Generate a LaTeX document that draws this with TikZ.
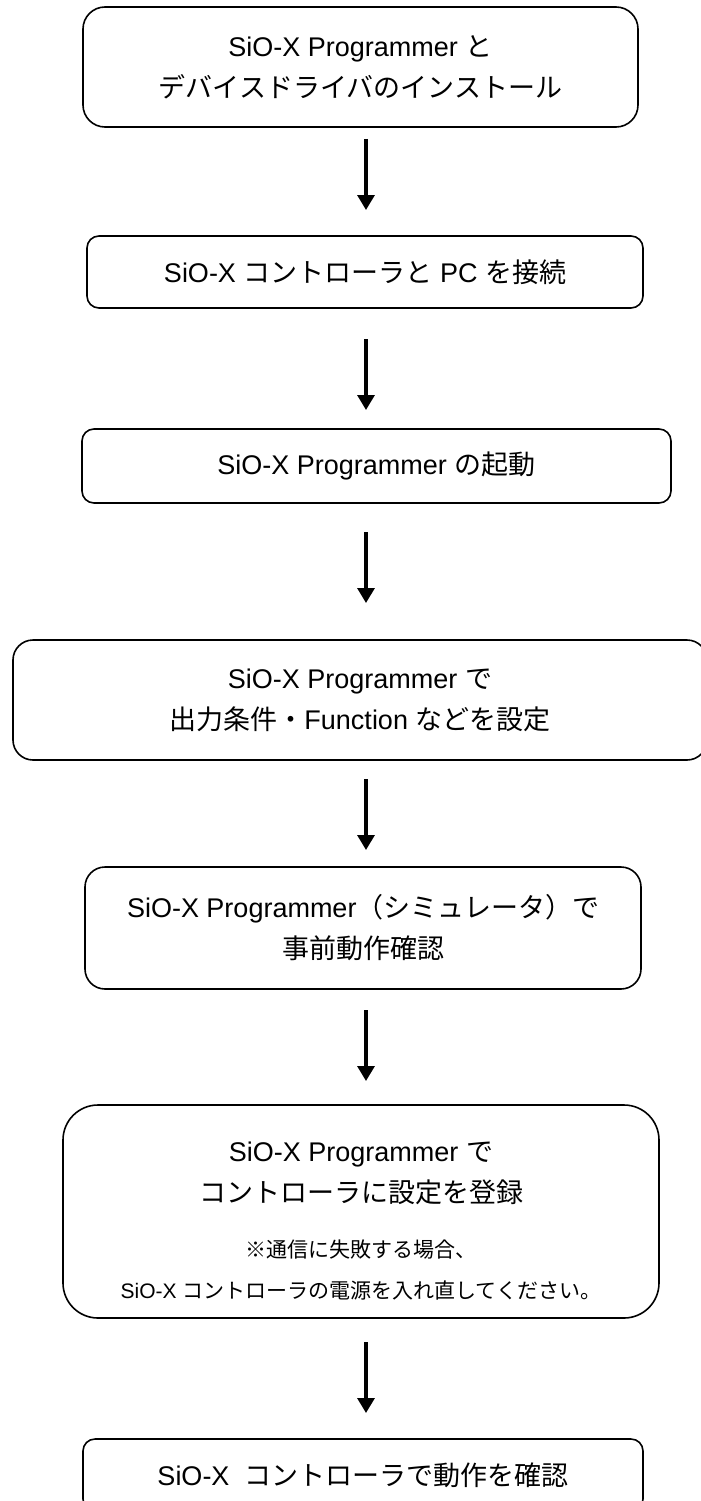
\documentclass[tikz,border=0pt]{standalone}
\usepackage{fontspec}
\setmainfont{Liberation Sans}
\newfontfamily\jp{Noto Sans CJK JP}
\newcommand\J[1]{{\jp #1}}
\usetikzlibrary{arrows.meta}
\begin{document}
\begin{tikzpicture}[x=1pt,y=-1pt,
  stepbox/.style={draw, line width=1.6pt, rounded corners=#1, inner sep=0pt, align=center,
    font=\fontsize{27}{41}\selectfont},
  stepbox/.default=12pt,
  txt/.style={inner sep=0pt, align=center, font=\fontsize{27}{41}\selectfont},
  flow/.style={-{Triangle[length=15pt,width=17pt]}, line width=3.2pt}]
\useasboundingbox (0,0) rectangle (701,1501);
\clip (0,0) rectangle (701,1501);
\fill[white] (0,0) rectangle (701,1501);

\node[stepbox=22pt, minimum width=555pt, minimum height=120pt] (b1) at (360.5,67)
  {SiO-X Programmer \J{と}\\\J{デバイスドライバのインストール}};
\node[stepbox=12pt, minimum width=556pt, minimum height=72pt] (b2) at (365,272)
  {SiO-X \J{コントローラと} PC \J{を接続}};
\node[stepbox=12pt, minimum width=589pt, minimum height=74pt] (b3) at (376.5,466)
  {SiO-X Programmer \J{の起動}};
\node[stepbox=20pt, minimum width=694pt, minimum height=120pt] (b4) at (360,700)
  {SiO-X Programmer \J{で}\\\J{出力条件・}Function \J{などを設定}};
\node[stepbox=20pt, minimum width=556pt, minimum height=122pt] (b5) at (363,928)
  {SiO-X Programmer\J{（シミュレータ）で}\\\J{事前動作確認}};
\node[stepbox=35pt, minimum width=596pt, minimum height=213pt] (b6) at (361,1211.5) {};
\node[txt] (b6t) at (361,1221)
  {SiO-X Programmer \J{で}\\\J{コントローラに設定を登録}\\[14pt]
   {\fontsize{21}{43}\selectfont\J{※通信に失敗する場合、}}\\
   {\fontsize{21}{43}\selectfont SiO-X \J{コントローラの電源を入れ直してください。}}};
\node[stepbox=12pt, minimum width=560pt, minimum height=72pt] (b7) at (363,1475)
  {SiO-X\ \ \J{コントローラで動作を確認}};

\coordinate (a1s) at (366,139);  \coordinate (a1e) at (366,210);
\coordinate (a2s) at (366,339);  \coordinate (a2e) at (366,410);
\coordinate (a3s) at (366,532);  \coordinate (a3e) at (366,603);
\coordinate (a4s) at (366,779);  \coordinate (a4e) at (366,850);
\coordinate (a5s) at (366,1010); \coordinate (a5e) at (366,1081);
\coordinate (a6s) at (366,1342); \coordinate (a6e) at (366,1413);
\draw[flow] (a1s) -- (a1e);
\draw[flow] (a2s) -- (a2e);
\draw[flow] (a3s) -- (a3e);
\draw[flow] (a4s) -- (a4e);
\draw[flow] (a5s) -- (a5e);
\draw[flow] (a6s) -- (a6e);
\end{tikzpicture}
\end{document}
